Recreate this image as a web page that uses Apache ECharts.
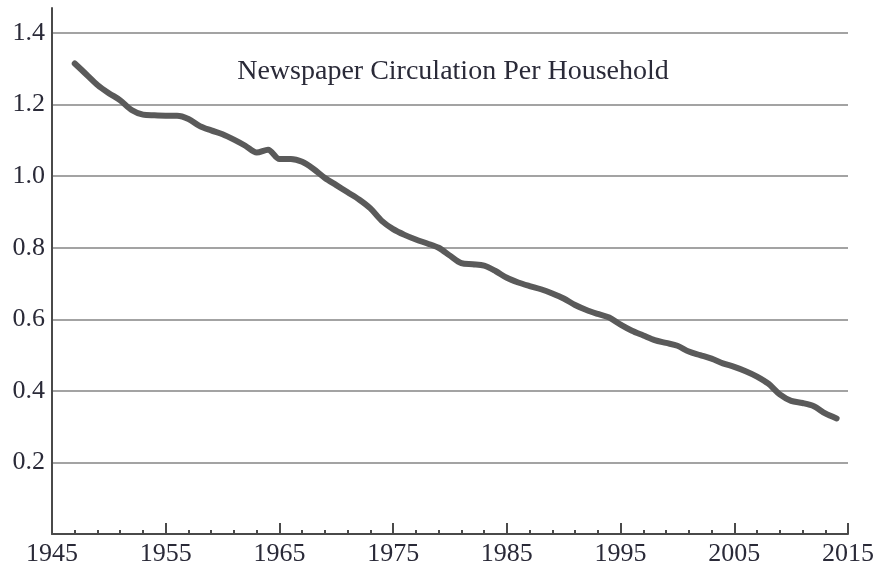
<!DOCTYPE html>
<html>
<head>
<meta charset="utf-8">
<script src="https://cdn.jsdelivr.net/npm/echarts@6/dist/echarts.min.js"></script>
<style>
html, body { margin: 0; padding: 0; background: #fff; }
#chart { width: 878px; height: 569px; }
</style>
</head>
<body>
<div id="chart"></div>
<script>
// 年份与每户报纸发行量
var years = [
    1947, 1948, 1949, 1950, 1951, 1952, 1953, 1954, 1955, 1956,
    1957, 1958, 1959, 1960, 1961, 1962, 1963, 1964, 1965, 1966,
    1967, 1968, 1969, 1970, 1971, 1972, 1973, 1974, 1975, 1976,
    1977, 1978, 1979, 1980, 1981, 1982, 1983, 1984, 1985, 1986,
    1987, 1988, 1989, 1990, 1991, 1992, 1993, 1994, 1995, 1996,
    1997, 1998, 1999, 2000, 2001, 2002, 2003, 2004, 2005, 2006,
    2007, 2008, 2009, 2010, 2011, 2012, 2013, 2014
]
var circulation = [
    1.315, 1.285, 1.255, 1.232, 1.212, 1.185, 1.172, 1.170, 1.169, 1.169,
    1.160, 1.140, 1.128, 1.117, 1.102, 1.085, 1.066, 1.074, 1.048, 1.048,
    1.040, 1.020, 0.995, 0.975, 0.955, 0.935, 0.910, 0.875, 0.852, 0.836,
    0.823, 0.812, 0.800, 0.778, 0.757, 0.754, 0.750, 0.735, 0.716, 0.703,
    0.693, 0.684, 0.672, 0.658, 0.640, 0.626, 0.615, 0.605, 0.585, 0.568,
    0.555, 0.542, 0.534, 0.526, 0.510, 0.500, 0.490, 0.477, 0.467, 0.455,
    0.440, 0.420, 0.390, 0.372, 0.366, 0.357, 0.337, 0.323
]
var titleText = "Newspaper Circulation Per Household"

var seriesData = years.map(function(y, i) {
    return [y, circulation[i]]
})

var serif = "'Liberation Serif', 'DejaVu Serif', serif"
var textColor = "#2a2a38"
var axisColor = "#4a4a4a"

var myChart = echarts.init(document.getElementById("chart"))
var option = {
    animation: false,
    backgroundColor: "#fff",
    title: {
        text: titleText,
        left: 448,
        top: 53,
        textAlign: "center",
        textStyle: {
            fontFamily: serif,
            fontSize: 28,
            fontWeight: "normal",
            color: textColor
        }
    },
    grid: {
        left: 52,
        right: 30,
        top: 8,
        bottom: 35
    },
    xAxis: {
        type: "value",
        min: 1945,
        max: 2015,
        interval: 10,
        axisLine: { lineStyle: { color: axisColor, width: 2 } },
        axisTick: {
            show: true,
            inside: true,
            length: 11,
            lineStyle: { color: axisColor, width: 2 }
        },
        minorTick: {
            show: true,
            splitNumber: 5,
            length: 4,
            lineStyle: { color: axisColor, width: 2 }
        },
        splitLine: { show: false },
        axisLabel: {
            margin: 7,
            fontFamily: serif,
            fontSize: 26,
            color: textColor,
            formatter: function(v) { return String(v) }
        }
    },
    yAxis: {
        type: "value",
        min: 0,
        max: 1.47,
        interval: 0.2,
        axisLine: { show: true, lineStyle: { color: axisColor, width: 2 } },
        axisTick: { show: false },
        splitLine: {
            show: true,
            showMinLine: false,
            showMaxLine: false,
            lineStyle: { color: "#a3a3a3", width: 2 }
        },
        axisLabel: {
            margin: 7,
            padding: [5, 0, 0, 0],
            showMinLabel: false,
            showMaxLabel: false,
            fontFamily: serif,
            fontSize: 26,
            color: textColor,
            formatter: function(v) { return v.toFixed(1) }
        }
    },
    series: [
        {
            type: "line",
            data: seriesData,
            smooth: 0.3,
            showSymbol: false,
            lineStyle: { color: "#5a5a5a", width: 6, cap: "round", join: "round" }
        }
    ]
}
myChart.setOption(option)
</script>
</body>
</html>
